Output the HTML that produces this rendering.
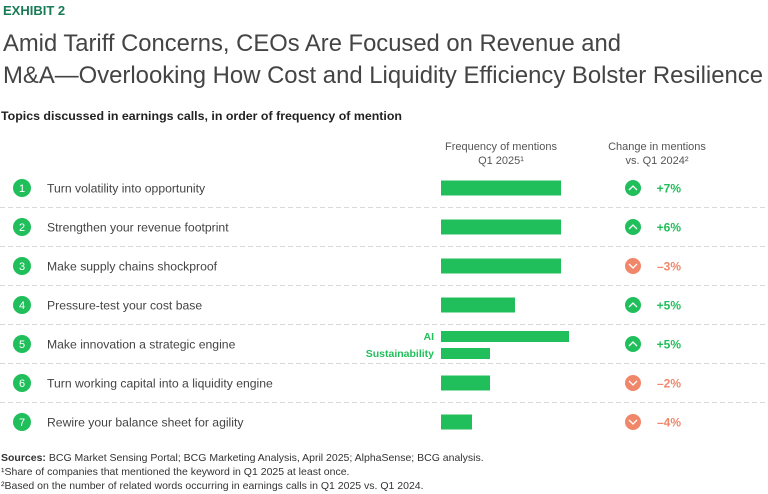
<!DOCTYPE html>
<html><head><meta charset="utf-8"><style>
body{margin:0;background:#fff;}
svg{display:block;font-family:"Liberation Sans",sans-serif;}
</style></head><body>
<svg id="c" width="768" height="494" viewBox="0 0 768 494">
<text x="3" y="15" font-size="13" font-weight="bold" fill="#197a56">EXHIBIT 2</text>
<text x="3" y="51" font-size="24" fill="#444" textLength="618" lengthAdjust="spacingAndGlyphs">Amid Tariff Concerns, CEOs Are Focused on Revenue and</text>
<text x="3" y="83" font-size="24" fill="#444" textLength="760" lengthAdjust="spacingAndGlyphs">M&amp;A—Overlooking How Cost and Liquidity Efficiency Bolster Resilience</text>
<text x="1" y="120" font-size="12" font-weight="bold" fill="#222" textLength="401" lengthAdjust="spacingAndGlyphs">Topics discussed in earnings calls, in order of frequency of mention</text>
<text x="501" y="150" font-size="11" fill="#555" text-anchor="middle">Frequency of mentions</text>
<text x="501" y="164" font-size="11" fill="#555" text-anchor="middle">Q1 2025¹</text>
<text x="657" y="150" font-size="11" fill="#555" text-anchor="middle">Change in mentions</text>
<text x="657" y="164" font-size="11" fill="#555" text-anchor="middle">vs. Q1 2024²</text>
<g id="rows"></g>
<text x="1" y="461" font-size="10.5" fill="#333"><tspan font-weight="bold">Sources:</tspan> BCG Market Sensing Portal; BCG Marketing Analysis, April 2025; AlphaSense; BCG analysis.</text>
<text x="1" y="475" font-size="10.5" fill="#333">¹Share of companies that mentioned the keyword in Q1 2025 at least once.</text>
<text x="1" y="489" font-size="10.5" fill="#333">²Based on the number of related words occurring in earnings calls in Q1 2025 vs. Q1 2024.</text>
</svg>
<script>
const topics=["Turn volatility into opportunity","Strengthen your revenue footprint","Make supply chains shockproof","Pressure-test your cost base","Make innovation a strategic engine","Turn working capital into a liquidity engine","Rewire your balance sheet for agility"];
const frequencyValues=[60,60,60,37,null,24.5,15.5];
const innovationAI=64;
const innovationSustainability=24.5;
const changes=[7,6,-3,5,5,-2,-4];
const changeLabels=["+7%","+6%","–3%","+5%","+5%","–2%","–4%"];

const NS="http://www.w3.org/2000/svg";
const g=document.getElementById('rows');
const x0=441, xs=v=>v*2;
const rowY=i=>188+i*39;
const GREEN="#21bf5b", RED="#f0876a";
function el(t,a){const e=document.createElementNS(NS,t);for(const k in a)e.setAttribute(k,a[k]);g.appendChild(e);return e;}
topics.forEach((t,i)=>{
  const y=rowY(i);
  if(i<topics.length-1){
    const l=el('line',{x1:0,x2:768,y1:y+19.5,y2:y+19.5,stroke:'#d8d8d8','stroke-dasharray':'5,3'});
    
    
  }
  const c=el('circle',{cx:22,cy:y,r:9,fill:GREEN});
  
  
  const n=el('text',{x:22,y:y+4,'font-size':11,fill:'#fff','text-anchor':'middle'});n.textContent=i+1;
  
  
  const tx=el('text',{x:47,y:y+4.5,'font-size':12.2,fill:'#444'});tx.textContent=t;
  
  
  if(i===4){
    const a=el('rect',{x:x0,y:y-13,width:xs(innovationAI),height:11,fill:GREEN});
    
    
    const s=el('rect',{x:x0,y:y+4,width:xs(innovationSustainability),height:11,fill:GREEN});
    
    
    const la=el('text',{x:434,y:y-4,'font-size':10.5,'font-weight':'bold',fill:GREEN,'text-anchor':'end'});la.textContent='AI';
    
    
    const ls=el('text',{x:434,y:y+13,'font-size':10.5,'font-weight':'bold',fill:GREEN,'text-anchor':'end'});ls.textContent='Sustainability';
    
    
  } else {
    const b=el('rect',{x:x0,y:y-7.5,width:xs(frequencyValues[i]),height:15,fill:GREEN});
    
    
  }
  const up=changes[i]>0, col=up?GREEN:RED;
  const ci=el('circle',{cx:633,cy:y,r:8,fill:col});
  
  
  const d=up?`M629 ${y+2} L633 ${y-2} L637 ${y+2}`:`M629 ${y-2} L633 ${y+2} L637 ${y-2}`;
  const p=el('path',{d:d,fill:'none',stroke:'#fff','stroke-width':1.3});
  
  
  const ct=el('text',{x:681,y:y+4.5,'font-size':12,'font-weight':'bold',fill:col,'text-anchor':'end'});ct.textContent=changeLabels[i];
  
  
});
</script>
</body></html>
